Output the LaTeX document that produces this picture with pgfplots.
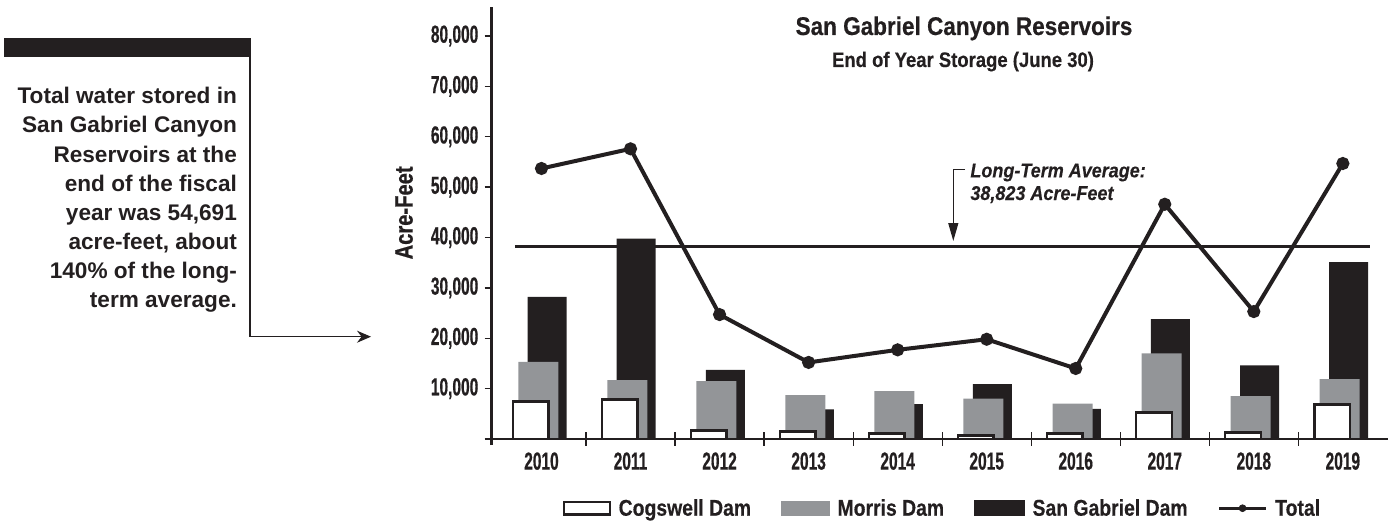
\documentclass[border=0pt]{standalone}
\usepackage{fontspec}
\setmainfont{Liberation Sans}
\newfontfamily\numfont{Liberation Sans}[FakeStretch=0.63,FakeBold=0.6]
\newfontfamily\titfont{Liberation Sans}[FakeStretch=0.88,FakeBold=0.4]
\newfontfamily\legfont{Liberation Sans}[FakeStretch=0.85,FakeBold=0.4]
\newfontfamily\ylabfont{Liberation Sans}[FakeStretch=0.8,FakeBold=0.7]
\newfontfamily\avgfont{Liberation Sans}[FakeStretch=0.9,FakeBold=0.3]
\usepackage{pgfplots}
\pgfplotsset{compat=1.18}
\usetikzlibrary{arrows.meta}
\definecolor{ink}{HTML}{231F20}
\definecolor{mgray}{HTML}{939598}

\begin{document}
\begin{tikzpicture}
\path[use as bounding box] (0pt,0pt) rectangle (695pt,-262pt);
\begin{axis}[
  at={(245.85pt,-222.5pt)}, anchor=south west,
  scale only axis, width=448.15pt, height=219pt,
  xmin=-0.559, xmax=9.507, ymin=-1191, ymax=85757,
  axis lines=left,
  axis line style={-, line width=1.4pt, ink},
  x axis line style={draw=none},
  clip=false,
  scaled y ticks=false,
  xtick={0,1,2,3,4,5,6,7,8,9},
  xticklabels={2010,2011,2012,2013,2014,2015,2016,2017,2018,2019},
  xtick style={draw=none},
  ytick={0,10000,20000,30000,40000,50000,60000,70000,80000},
  yticklabels={{},{10,000},{20,000},{30,000},{40,000},{50,000},{60,000},{70,000},{80,000}},
  tick align=outside, major tick length=3.5pt,
  ytick style={line width=0.7pt, ink},
  ticklabel style={font=\numfont\bfseries\fontsize{12.3}{14}\selectfont, text=ink},
  yticklabel style={anchor=east, inner sep=0pt, xshift=-3pt},
  xticklabel style={anchor=north, inner sep=0pt},
  ylabel={Acre-Feet},
  ylabel style={at={(rel axis cs:-0.0978,0.53)}, anchor=center, font=\ylabfont\bfseries\fontsize{12.6}{14}\selectfont, text=ink},
  legend style={at={(rel axis cs:0.0792,-0.146)}, anchor=west, draw=none, fill=none, inner sep=0pt,
    font=\legfont\bfseries\fontsize{11.4}{13}\selectfont, text=ink,
    cells={anchor=base west}, nodes={inner sep=0pt},
    /tikz/every odd column/.append style={column sep=3.8pt},
    /tikz/every even column/.append style={column sep=15pt}},
  legend columns=4,
]
% San Gabriel Dam (black, behind)
\addplot[ybar, bar width=19.5pt, bar shift=2.85pt, fill=ink, draw=none, forget plot] coordinates {
 (0,28200) (1,39800) (2,13700) (3,5900) (4,6900) (5,10900) (6,6000) (7,23800) (8,14600) (9,35100)};
% Morris Dam (gray)
\addplot[ybar, bar width=20pt, bar shift=-1.6pt, fill=mgray, draw=none, forget plot] coordinates {
 (0,15300) (1,11700) (2,11500) (3,8700) (4,9500) (5,8000) (6,7000) (7,17000) (8,8500) (9,11900)};
% Cogswell Dam (white)
\addplot[ybar, bar width=17.85pt, bar shift=-5.4pt, fill=white, draw=ink, line width=1.3pt, forget plot] coordinates {
 (0,7480) (1,7820) (2,1730) (3,1530) (4,1130) (5,730) (6,1130) (7,5300) (8,1330) (9,6830)};
% Long-term average
\addplot[ink, line width=1.1pt, mark=none, forget plot] coordinates {(-0.298,38200) (9.305,38200)};
% Total
\addplot[ink, line width=2pt, mark=*, mark size=2.25pt, mark options={fill=ink, draw=ink}, forget plot] coordinates {
 (0,53700) (1,57600) (2,24700) (3,15200) (4,17700) (5,19800) (6,14000) (7,46600) (8,25300) (9,54691)};
% x axis line and category ticks
\draw[ink, line width=1.4pt] (axis cs:-0.559,0) -- (axis cs:9.507,0);
\pgfplotsinvokeforeach{0.5,1.5,2.5,3.5,4.5,5.5,6.5,7.5,8.5}{
  \draw[ink, line width=0.6pt] (axis cs:#1,0) ++(0pt,-3.3pt) -- ++(0pt,6.6pt);
}
\addlegendimage{legend image code/.code={\draw[ink, fill=white, line width=1.2pt] (0.6pt,0.6pt) rectangle (23.4pt,6.9pt);}}
\addlegendentry{Cogswell Dam}
\addlegendimage{legend image code/.code={\fill[mgray] (0pt,0pt) rectangle (24pt,7.2pt);}}
\addlegendentry{Morris Dam}
\addlegendimage{legend image code/.code={\fill[ink] (0pt,0pt) rectangle (25pt,7.5pt);}}
\addlegendentry{San Gabriel Dam}
\addlegendimage{legend image code/.code={\draw[ink, line width=1.5pt] (0pt,3.75pt) -- (23.5pt,3.75pt); \fill[ink] (11.7pt,3.75pt) circle (1.7pt);}}
\addlegendentry{Total}
\end{axis}
\begin{scope}[x=0.5pt,y=-0.5pt]
% left panel
\fill[ink] (4,38) rectangle (250.7,56.7);
\draw[ink, line width=0.6pt, -{Stealth[length=7pt,width=6pt]}] (250,56) -- (250,336.7) -- (371,336.7);
\begin{scope}[every node/.style={anchor=base east, inner sep=0pt, text=ink, font=\bfseries\fontsize{11.3}{14}\selectfont}]
\node at (237.3,104) {Total water stored in};
\node at (237.3,133) {San Gabriel Canyon};
\node at (237.3,162) {Reservoirs at the};
\node at (237.3,191) {end of the fiscal};
\node at (237.3,220) {year was 54,691};
\node at (237.3,249) {acre-feet, about};
\node at (237.3,278) {140\% of the long-};
\node at (237.3,307) {term average.};
\end{scope}
% titles
\node[anchor=base, inner sep=0pt, text=ink, font=\titfont\bfseries\fontsize{12.8}{15}\selectfont] at (964,35) {San Gabriel Canyon Reservoirs};
\node[anchor=base, inner sep=0pt, text=ink, font=\titfont\bfseries\fontsize{10.5}{13}\selectfont] at (963,67) {End of Year Storage (June 30)};
% average annotation
\draw[ink, line width=0.6pt, -{Triangle[length=9pt,width=5pt]}] (965,169.3) -- (953.3,169.3) -- (953.3,241);
\node[anchor=base west, inner sep=0pt, text=ink, font=\avgfont\bfseries\itshape\fontsize{10}{12}\selectfont] at (970,177.3) {Long-Term Average:};
\node[anchor=base west, inner sep=0pt, text=ink, font=\avgfont\bfseries\itshape\fontsize{10}{12}\selectfont] at (970,200) {38,823 Acre-Feet};
\end{scope}
\end{tikzpicture}
\end{document}
